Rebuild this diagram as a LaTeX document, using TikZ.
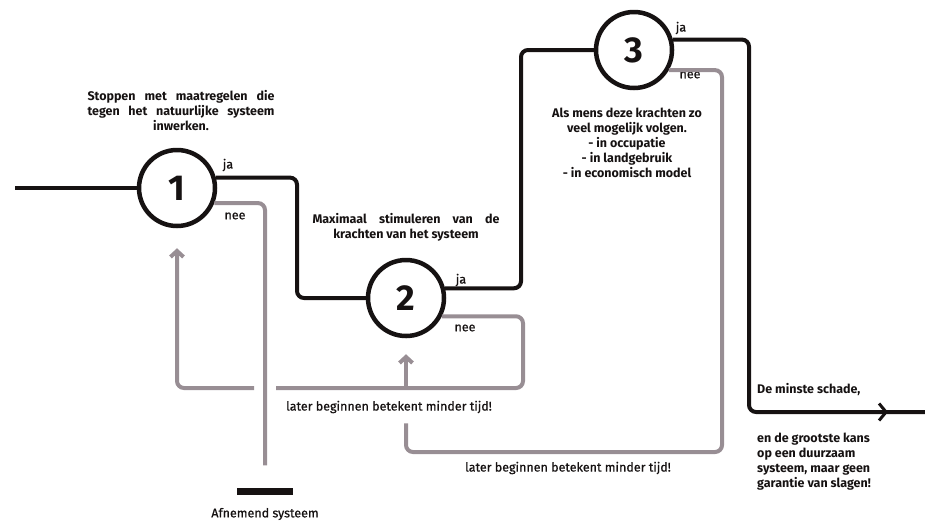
\documentclass[tikz,border=0pt]{standalone}
\usepackage{fontspec}
\setmainfont{Fira Sans}
\newfontfamily\medfont[FakeBold=0.8]{Fira Sans}
\usetikzlibrary{arrows.meta,positioning,calc,decorations.markings}
\definecolor{ink}{RGB}{22,18,18}
\definecolor{loopgray}{RGB}{152,142,148}

\begin{document}
\begin{tikzpicture}[x=1pt,y=-1pt,
  stage/.style={circle,draw=ink,line width=4.5pt,minimum size=76pt,inner sep=0pt,
    font=\fontsize{36}{36}\selectfont\bfseries,text=ink,fill=white},
  blk/.style={draw=ink,line width=4pt,rounded corners=7pt},
  gry/.style={draw=loopgray,line width=4pt,rounded corners=7pt},
  note/.style={font=\fontsize{12.5}{15}\selectfont\bfseries,align=center,inner sep=0pt,text=ink},
  lbl/.style={font=\fontsize{12.5}{13}\medfont,inner sep=0pt,text=ink},
  >={Straight Barb[length=6pt,width=13pt]}]
\useasboundingbox (0,0) rectangle (925,523);

% stages
\node[stage] (c1) at (177,188) {1};
\node[stage] (c2) at (406,298) {2};
\node[stage] (c3) at (634,50) {3};
\coordinate (in) at (15,188);
\coordinate (out) at (925,412);
\node[fill=ink,minimum width=56pt,minimum height=7pt,inner sep=0pt] (afn) at (265,491) {};
\node[lbl] (afnlbl) at (265,514) {Afnemend systeem};

% texts
\node[note] (stop) at (181,111) {\makebox[187pt][s]{Stoppen met maatregelen die}\\
  \makebox[187pt][s]{tegen het natuurlijke systeem}\\ inwerken.};
\node[note] (max) at (406,227) {\makebox[187pt][s]{Maximaal stimuleren van de}\\
  krachten van het systeem};
\node[note] (volg) at (627,143) {Als mens deze krachten zo\\ veel mogelijk volgen.\\
  - in occupatie\\ - in landgebruik\\ - in economisch model};
\node[note,anchor=west] (schade) at (757,390) {De minste schade,};
\node[note,align=left,anchor=west] (kans) at (757,462) {en de grootste kans\\
  op een duurzaam\\ systeem, maar geen\\ garantie van slagen!};
\node[lbl] (later1) at (389,407) {later beginnen betekent minder tijd!};
\node[lbl] (later2) at (568,468) {later beginnen betekent minder tijd!};

% ja / nee
\node[lbl] (ja1) at (228,165) {ja};
\node[lbl] (nee1) at (235,216) {nee};
\node[lbl] (ja2) at (461,280) {ja};
\node[lbl] (nee2) at (465,328) {nee};
\node[lbl] (ja3) at (681,28) {ja};
\node[lbl] (nee3) at (690,75) {nee};

% main line
\draw[blk] (in) -- (c1.west);
\draw[blk] (c1.15) -| (297,298) -- (c2.west);
\draw[blk] (c2.14) -| (521,50) -- (c3.west);
\draw[blk,postaction={decorate},decoration={markings,
  mark=at position -37pt with {\arrow[ink,line width=3pt]{Straight Barb[length=7pt,width=17pt]}}}]
  (c3.15) -| (749,412) -- (out);

% loops back
\draw[gry] (c1.-22) -| ($(afn.north)+(0,-22)$);
\draw[gry] (c2.-27) -| (523,388) -- (276,388);
\draw[gry,->] (254,388) -| ($(c1.south)+(0,20)$);
\draw[gry,->] (406,386) -- ($(c2.south)+(0,16)$);
\draw[gry] (c3.-30) -| (722,452) -| ($(c2 |- later1.south)+(0,10)$);
\end{tikzpicture}
\end{document}
